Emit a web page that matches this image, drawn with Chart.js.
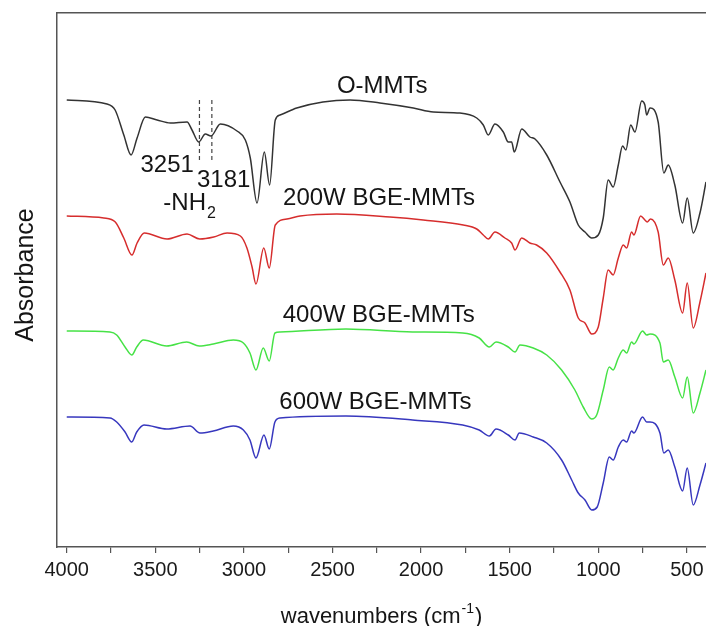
<!DOCTYPE html>
<html>
<head>
<meta charset="utf-8">
<script src="https://cdn.jsdelivr.net/npm/chart.js@4.4.0/dist/chart.umd.min.js"></script>
<style>
  html, body { margin: 0; padding: 0; background: #fff; }
  #wrap { width: 706px; height: 626px; }
</style>
</head>
<body>
<div id="wrap"><canvas id="ftirChart" width="706" height="626"></canvas></div>
<script>
// FTIR spectra (absorbance in stacked arbitrary units)
const omWave = [4000, 3773, 3727, 3678, 3637, 3603, 3556, 3490, 3415, 3321, 3293, 3255, 3218, 3186, 3133, 3039, 2992, 2964, 2926, 2885, 2855, 2823, 2796, 2702, 2554, 2401, 2232, 2044, 1931, 1781, 1686, 1649, 1621, 1583, 1536, 1508, 1489, 1474, 1432, 1386, 1357, 1291, 1216, 1160, 1113, 1075, 1037, 1000, 972, 944, 916, 887, 863, 844, 817, 793, 755, 737, 727, 708, 662, 630, 605, 568, 524, 498, 464, 426, 392];
const omAbs = [4.47, 4.43, 4.37, 4.12, 3.92, 4.09, 4.30, 4.27, 4.24, 4.25, 4.17, 4.05, 4.13, 4.11, 4.23, 4.16, 4.07, 3.89, 3.44, 3.95, 3.62, 4.27, 4.32, 4.39, 4.45, 4.47, 4.44, 4.39, 4.35, 4.34, 4.29, 4.22, 4.12, 4.23, 4.15, 4.05, 4.05, 3.95, 4.18, 4.10, 4.08, 3.92, 3.65, 3.45, 3.22, 3.15, 3.09, 3.12, 3.29, 3.67, 3.60, 3.82, 4.01, 3.97, 4.22, 4.15, 4.46, 4.42, 4.32, 4.39, 4.25, 3.74, 3.82, 3.62, 3.24, 3.49, 3.14, 3.34, 3.65];

const w200Wave = [4000, 3791, 3726, 3678, 3632, 3603, 3562, 3434, 3321, 3249, 3170, 3095, 3020, 2983, 2954, 2932, 2888, 2857, 2823, 2757, 2683, 2476, 2176, 1988, 1762, 1686, 1649, 1621, 1583, 1527, 1489, 1470, 1432, 1386, 1348, 1291, 1216, 1160, 1113, 1075, 1037, 1000, 972, 944, 916, 887, 859, 840, 812, 799, 761, 737, 724, 705, 662, 633, 605, 568, 524, 498, 464, 426, 392];
const w200Abs = [3.31, 3.29, 3.25, 3.09, 2.92, 3.04, 3.14, 3.08, 3.13, 3.08, 3.10, 3.14, 3.11, 2.99, 2.80, 2.63, 2.99, 2.79, 3.22, 3.28, 3.31, 3.33, 3.30, 3.27, 3.22, 3.18, 3.12, 3.08, 3.15, 3.09, 3.04, 2.97, 3.09, 3.04, 3.02, 2.94, 2.75, 2.57, 2.29, 2.24, 2.13, 2.20, 2.49, 2.77, 2.72, 2.89, 3.02, 2.99, 3.15, 3.12, 3.31, 3.27, 3.25, 3.28, 3.15, 2.82, 2.89, 2.67, 2.34, 2.64, 2.19, 2.45, 2.74];

const w400Wave = [4000, 3756, 3718, 3671, 3633, 3605, 3568, 3436, 3323, 3252, 3173, 3060, 3003, 2966, 2932, 2891, 2857, 2825, 2796, 2424, 2048, 1765, 1672, 1615, 1577, 1508, 1470, 1442, 1367, 1291, 1207, 1132, 1085, 1037, 1009, 972, 938, 916, 887, 859, 840, 812, 799, 750, 727, 708, 652, 633, 605, 568, 524, 498, 464, 426, 392];
const w400Abs = [2.16, 2.15, 2.12, 2.00, 1.92, 2.00, 2.07, 2.01, 2.05, 2.01, 2.03, 2.07, 2.04, 1.94, 1.77, 1.99, 1.86, 2.14, 2.15, 2.18, 2.15, 2.14, 2.09, 2.00, 2.05, 2.00, 1.95, 2.02, 1.99, 1.92, 1.77, 1.57, 1.40, 1.28, 1.32, 1.57, 1.80, 1.77, 1.89, 1.97, 1.94, 2.05, 2.03, 2.16, 2.12, 2.13, 2.04, 1.85, 1.87, 1.70, 1.49, 1.70, 1.34, 1.54, 1.77];

const w600Wave = [4000, 3756, 3718, 3671, 3633, 3605, 3564, 3436, 3304, 3248, 3173, 3060, 3003, 2966, 2932, 2887, 2857, 2825, 2796, 2424, 2048, 1765, 1672, 1615, 1577, 1508, 1470, 1446, 1367, 1291, 1207, 1150, 1113, 1075, 1037, 1006, 972, 938, 916, 887, 859, 840, 812, 799, 750, 727, 708, 652, 630, 605, 568, 524, 498, 464, 426, 392];
const w600Abs = [1.30, 1.29, 1.25, 1.15, 1.05, 1.15, 1.22, 1.18, 1.21, 1.14, 1.16, 1.21, 1.17, 1.07, 0.89, 1.12, 0.98, 1.25, 1.29, 1.31, 1.27, 1.22, 1.17, 1.11, 1.18, 1.12, 1.07, 1.14, 1.10, 1.04, 0.87, 0.67, 0.54, 0.47, 0.37, 0.40, 0.64, 0.90, 0.87, 1.00, 1.07, 1.05, 1.16, 1.14, 1.30, 1.25, 1.25, 1.14, 0.94, 0.97, 0.80, 0.56, 0.79, 0.42, 0.62, 0.84];

// -NH2 marker lines
const nhWave = [3251, 3181];
const nhTop = 4.47;
const nhBottom = 3.85;

// axis
const xMin = 392;
const xMax = 4055;
const yMin = 0;
const yMax = 5.34;
const majorTicks = [4000, 3500, 3000, 2500, 2000, 1500, 1000, 500];
const minorTicks = [3750, 3250, 2750, 2250, 1750, 1250, 750];

// text labels (left edge wavenumber, vertical centre absorbance)
const curveLabels = ['O-MMTs', '200W BGE-MMTs', '400W BGE-MMTs', '600W BGE-MMTs', '3251', '3181'];
const labelWave = [2475, 2779, 2781, 2800, 3584, 3265];
const labelAbs = [4.61, 3.49, 2.32, 1.45, 3.82, 3.67];
const nhLabelWave = 3455;
const nhLabelAbs = 3.44;

const FONT = '"Liberation Sans", Arial, sans-serif';

function toPoints(wave, abs) {
    return wave.map((w, i) => ({ x: w, y: abs[i] }));
}

function spectrum(label, wave, abs, color) {
    return {
        label: label,
        data: toPoints(wave, abs),
        borderColor: color,
        borderWidth: 1.5,
        pointRadius: 0,
        cubicInterpolationMode: 'monotone',
        fill: false
    };
}

const datasets = [
    spectrum('O-MMTs', omWave, omAbs, '#333333'),
    spectrum('200W BGE-MMTs', w200Wave, w200Abs, 'rgb(214, 45, 45)'),
    spectrum('400W BGE-MMTs', w400Wave, w400Abs, 'rgb(70, 226, 70)'),
    spectrum('600W BGE-MMTs', w600Wave, w600Abs, 'rgb(55, 55, 190)')
];

nhWave.forEach(w => {
    datasets.push({
        label: 'NH2 ' + w,
        data: [{ x: w, y: nhTop }, { x: w, y: nhBottom }],
        borderColor: '#444',
        borderWidth: 1.2,
        borderDash: [4, 3],
        pointRadius: 0,
        fill: false
    });
});

const textPlugin = {
    id: 'ftirText',
    afterDraw(chart) {
        const ctx = chart.ctx;
        const xs = chart.scales.x;
        const ys = chart.scales.y;
        const area = chart.chartArea;
        ctx.save();
        ctx.fillStyle = '#151515';

        // curve and peak labels
        ctx.font = '24px ' + FONT;
        ctx.textAlign = 'left';
        ctx.textBaseline = 'middle';
        curveLabels.forEach((t, i) => {
            ctx.fillText(t, xs.getPixelForValue(labelWave[i]), ys.getPixelForValue(labelAbs[i]));
        });

        // -NH2 with subscript
        const nx = xs.getPixelForValue(nhLabelWave);
        const ny = ys.getPixelForValue(nhLabelAbs);
        ctx.fillText('-NH', nx, ny);
        const nw = ctx.measureText('-NH').width;
        ctx.font = '16px ' + FONT;
        ctx.fillText('2', nx + nw + 1, ny + 11);

        // y axis title
        ctx.font = '25px ' + FONT;
        ctx.textAlign = 'center';
        ctx.textBaseline = 'alphabetic';
        ctx.save();
        ctx.translate(33, (area.top + area.bottom) / 2 - 5);
        ctx.rotate(-Math.PI / 2);
        ctx.fillText('Absorbance', 0, 0);
        ctx.restore();

        // x axis title with superscript
        const main = 'wavenumbers (cm';
        const sup = '-1';
        const close = ')';
        ctx.font = '22px ' + FONT;
        const w1 = ctx.measureText(main).width;
        const w3 = ctx.measureText(close).width;
        ctx.font = '14px ' + FONT;
        const w2 = ctx.measureText(sup).width;
        const total = w1 + w2 + w3 + 2;
        let tx = (area.left + area.right) / 2 - total / 2;
        const base = 623;
        ctx.textAlign = 'left';
        ctx.font = '22px ' + FONT;
        ctx.fillText(main, tx, base);
        ctx.font = '14px ' + FONT;
        ctx.fillText(sup, tx + w1 + 1, base - 10);
        ctx.font = '22px ' + FONT;
        ctx.fillText(close, tx + w1 + w2 + 2, base);
        ctx.restore();
    }
};

const ctx = document.getElementById('ftirChart').getContext('2d');
new Chart(ctx, {
    type: 'line',
    data: { datasets: datasets },
    options: {
        responsive: false,
        animation: false,
        layout: { padding: 0 },
        plugins: {
            legend: { display: false },
            tooltip: { enabled: false }
        },
        scales: {
            x: {
                type: 'linear',
                position: 'bottom',
                reverse: true,
                min: xMin,
                max: xMax,
                afterBuildTicks: scale => {
                    scale.ticks = majorTicks.concat(minorTicks)
                        .sort((a, b) => a - b)
                        .map(v => ({ value: v }));
                },
                afterFit: scale => { scale.height = 79; },
                ticks: {
                    autoSkip: false,
                    maxRotation: 0,
                    padding: 5,
                    color: '#1a1a1a',
                    font: { family: FONT, size: 20 },
                    callback: value => (majorTicks.includes(value) ? String(value) : '')
                },
                grid: {
                    display: true,
                    drawOnChartArea: false,
                    drawTicks: true,
                    tickLength: 6,
                    color: '#555',
                    lineWidth: 1.2
                },
                border: { display: true, color: '#555', width: 1.5 }
            },
            xTop: {
                type: 'linear',
                position: 'top',
                min: xMin,
                max: xMax,
                afterFit: scale => { scale.height = 13; },
                ticks: { display: false },
                grid: { display: false, drawTicks: false },
                border: { display: true, color: '#555', width: 1.5 }
            },
            y: {
                type: 'linear',
                min: yMin,
                max: yMax,
                afterFit: scale => { scale.width = 57; },
                ticks: { display: false },
                grid: { display: false, drawTicks: false },
                border: { display: true, color: '#555', width: 1.5 }
            }
        }
    },
    plugins: [textPlugin]
});
</script>
</body>
</html>
